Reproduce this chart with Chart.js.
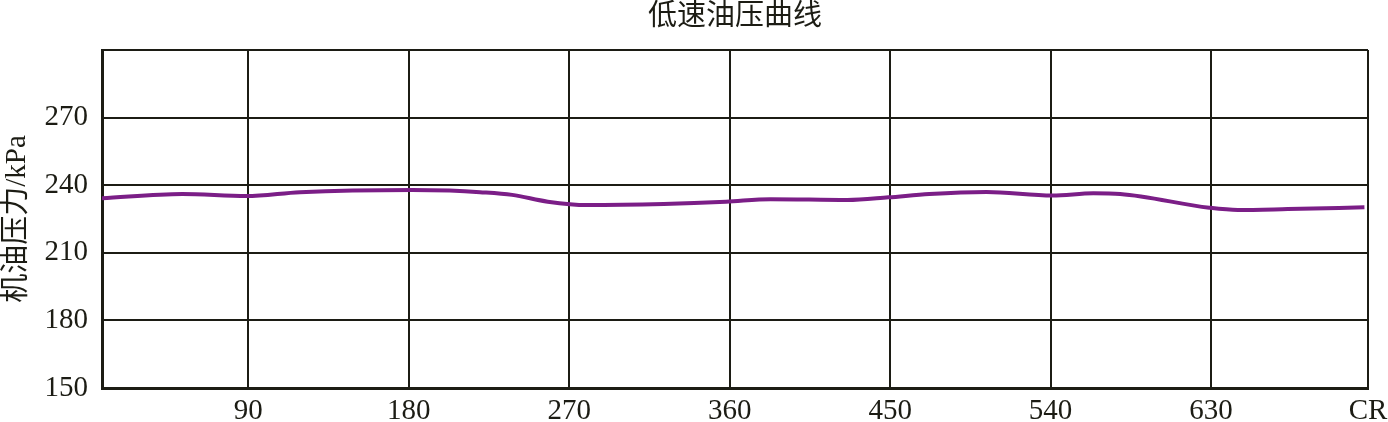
<!DOCTYPE html>
<html>
<head>
<meta charset="utf-8">
<script src="https://cdn.jsdelivr.net/npm/chart.js@4/dist/chart.umd.min.js"></script>
<style>
html,body{margin:0;padding:0;background:#fff;}
#wrap{width:1388px;height:422px;position:relative;}
</style>
</head>
<body>
<div id="wrap"><canvas id="c" width="1388" height="422"></canvas></div>
<script>
const crankAngle = [8, 53, 89, 119, 182, 203, 220, 238, 258, 280, 323, 358, 383, 426, 449, 472, 504, 541, 564, 579, 629, 645, 673, 716];
const oilPressure = [234.2, 236.1, 235.2, 236.9, 237.9, 237.6, 236.9, 235.7, 232.7, 231.2, 231.7, 232.7, 233.8, 233.4, 234.6, 236.1, 237.0, 235.4, 236.4, 236.1, 230.0, 229.0, 229.4, 230.2];
const xTicks = [90, 180, 270, 360, 450, 540, 630];
const xEndLabel = 'CR';
const yTicks = [150, 180, 210, 240, 270, 300];
const titleText = '低速油压曲线';
const yTitle = '机油压力/kPa';

const X_MIN = 8, X_MAX = 718;
const FONT = "'Liberation Serif', 'Noto Sans CJK SC', serif";
const INK = '#1c1c14';

const points = crankAngle.map((x, i) => ({x: x, y: oilPressure[i]}));

new Chart(document.getElementById('c'), {
  type: 'line',
  data: {
    datasets: [{
      data: points,
      borderColor: '#7B1E87',
      borderWidth: 4,
      pointRadius: 0,
      cubicInterpolationMode: 'monotone',
      fill: false
    }]
  },
  options: {
    responsive: false,
    animation: false,
    devicePixelRatio: 1,
    layout: {padding: {left: 0, right: 20, top: 0, bottom: 0}},
    plugins: {
      legend: {display: false},
      tooltip: {enabled: false},
      title: {
        display: true,
        text: titleText,
        fullSize: false,
        color: INK,
        font: {family: FONT, size: 29, weight: 'normal', lineHeight: 1.2},
        padding: {top: 0, bottom: 15.2}
      }
    },
    scales: {
      x: {
        type: 'linear',
        min: X_MIN,
        max: X_MAX,
        afterBuildTicks: (s) => { s.ticks = xTicks.concat([X_MAX]).map(v => ({value: v})); },
        afterFit: (s) => { s.height = 34; s.paddingRight = 0; s.paddingLeft = 0; },
        ticks: {
          autoSkip: false,
          maxRotation: 0,
          padding: 6,
          color: INK,
          font: {family: FONT, size: 29},
          callback: (v) => v === X_MAX ? xEndLabel : String(v)
        },
        grid: {color: INK, lineWidth: 2, drawTicks: false},
        border: {color: INK, width: 3}
      },
      y: {
        type: 'linear',
        min: 150,
        max: 300,
        afterBuildTicks: (s) => { s.ticks = yTicks.map(v => ({value: v})); },
        afterFit: (s) => { s.width = 102; s.paddingTop = 0; s.paddingBottom = 0; },
        ticks: {
          padding: 14,
          color: INK,
          font: {family: FONT, size: 29},
          callback: (v) => v === 300 ? '' : String(v)
        },
        title: {
          display: true,
          text: yTitle,
          color: INK,
          font: {family: FONT, size: 29},
          padding: {top: 0, bottom: 0}
        },
        grid: {color: INK, lineWidth: 2, drawTicks: false},
        border: {color: INK, width: 3}
      }
    }
  }
});
</script>
</body>
</html>
